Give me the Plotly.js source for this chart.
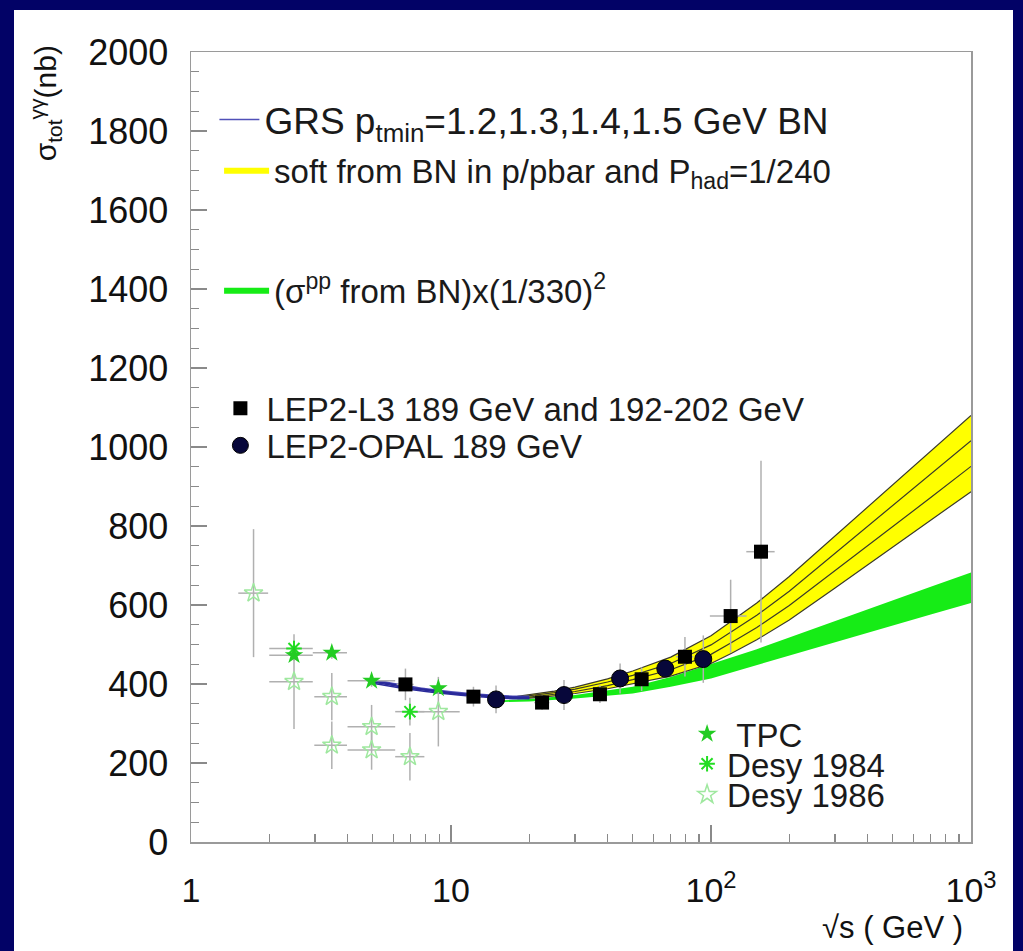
<!DOCTYPE html>
<html><head><meta charset="utf-8">
<script src="https://cdn.plot.ly/plotly-3.0.1.min.js"></script>
<style>
html,body{margin:0;padding:0;background:#020266;width:1023px;height:951px;overflow:hidden;}
#chart{position:absolute;left:14px;top:10px;width:999px;height:941px;background:#fff;}
</style></head><body><div id="chart"></div>
<script>
// ---- theory curves ----
const bandS   = [18, 20, 25, 30, 40, 50, 70, 100, 120, 150, 200, 300, 400, 500, 700, 1000];
const softTop = [369, 373, 382, 392, 413, 433, 468, 522, 560, 605, 672, 775, 847, 903, 988, 1080];
const softL2  = [367, 370, 378, 387, 405, 422, 452, 499, 533, 574, 635, 731, 798, 851, 930, 1016];
const softL3  = [365, 367, 374, 381, 396, 411, 436, 475, 505, 543, 599, 687, 750, 798, 872, 951];
const softBot = [363, 364, 370, 376, 388, 400, 420, 452, 478, 512, 562, 643, 701, 746, 814, 887];

const ppS   = [15, 20, 30, 50, 70, 100, 150, 200, 300, 500, 700, 1000];
const ppTop = [358, 362, 372, 393, 418, 450, 488, 518, 560, 612, 646, 682];
const ppBot = [354, 356, 363, 376, 393, 414, 446, 470, 505, 548, 576, 605];

const grsS  = [5, 6, 7, 8, 10, 12, 15, 18, 20];
const grs12 = [411, 401, 394, 388, 380, 375, 371, 369, 369];
const grs13 = [408, 399, 391, 386, 378, 373, 369, 367, 367];
const grs14 = [405, 396, 389, 384, 376, 371, 367, 365, 365];
const grs15 = [402, 393, 386, 381, 374, 369, 365, 363, 363];

// ---- data points ----
const l3S      = [6.68, 12.2, 22.4, 37.4, 54.1, 79.4, 119, 155.7];
const l3Sig    = [399, 368, 353, 374, 412, 469, 572, 735];
const l3Err    = [40, 25, 18, 22, 30, 50, 92, 230];
const l3XPlus  = [0.5, 0.8, 1.5, 2, 3, 6, 18, 20];
const l3XMinus = [0.5, 0.8, 1.5, 2, 3, 6, 20, 19];

const opalS   = [14.9, 27.2, 44.7, 66.7, 93.4];
const opalSig = [361, 372, 414, 439, 463];
const opalErr = [35, 38, 38, 22, 60];

const tpcS      = [2.49, 3.48, 4.95, 8.94];
const tpcSig    = [473, 479, 408, 389];
const tpcErr    = [15, 15, 15, 15];
const tpcXPlus  = [0.45, 0.5, 1.15, 0.4];
const tpcXMinus = [0.49, 0.54, 0.95, 0.4];

const d84S      = [2.49, 6.95];
const d84Sig    = [490, 330];
const d84Err    = [20, 35];
const d84XPlus  = [0.45, 0.95];
const d84XMinus = [0.49, 0.85];

const d86S      = [1.74, 2.49, 3.48, 3.48, 4.95, 4.95, 6.95, 8.94];
const d86Sig    = [630, 406, 368, 245, 292, 233, 216, 330];
const d86Err    = [162, 120, 60, 60, 55, 50, 60, 88];
const d86XPlus  = [0.24, 0.45, 0.5, 0.5, 1.15, 1.15, 0.95, 1.86];
const d86XMinus = [0.22, 0.49, 0.5, 0.5, 0.95, 0.95, 0.85, 1.54];

const xTickVals = [1, 10, 100, 1000];
const xTickText = ['1', '10', '10<sup>2</sup>', '10<sup>3</sup>'];
const yTickVals = [0, 200, 400, 600, 800, 1000, 1200, 1400, 1600, 1800, 2000];

const FONT = 'Liberation Sans, Arial, Helvetica, sans-serif';
const errStyle = {color: '#b0b0b0', thickness: 1.5, width: 0};
function rev(a){ return a.slice().reverse(); }

const traces = [];
traces.push({x: ppS.concat(rev(ppS)), y: ppTop.concat(rev(ppBot)), mode: 'lines', fill: 'toself',
  fillcolor: '#16ec16', line: {width: 0}, hoverinfo: 'skip',
  name: '(σ<sup>pp</sup> from BN)x(1/330)<sup>2</sup>', legend: 'legend3'});
traces.push({x: bandS.concat(rev(bandS)), y: softTop.concat(rev(softBot)), mode: 'lines', fill: 'toself',
  fillcolor: '#ffff00', line: {width: 0}, hoverinfo: 'skip',
  name: 'soft from BN in p/pbar and P<sub>had</sub>=1/240', legend: 'legend2'});
[softTop, softL2, softL3, softBot].forEach(function(arr){
  traces.push({x: bandS, y: arr, mode: 'lines', line: {color: '#3a3a2a', width: 1.2},
    showlegend: false, hoverinfo: 'skip'});
});
[grs12, grs13, grs14, grs15].forEach(function(arr, i){
  traces.push({x: grsS, y: arr, mode: 'lines', line: {color: i === 0 ? '#5050b8' : '#2a2a9a', width: 1.6, shape: 'spline', smoothing: 0.6},
    showlegend: i === 0, legend: 'legend', name: 'GRS p<sub>tmin</sub>=1.2,1.3,1.4,1.5 GeV BN'});
});
traces.push({x: d86S, y: d86Sig, mode: 'markers', name: 'Desy 1986', legend: 'legend8',
  marker: {symbol: 'star-open', size: 14, color: '#9fe89f', line: {width: 1.5, color: '#9fe89f'}},
  error_y: Object.assign({type: 'data', array: d86Err}, errStyle),
  error_x: Object.assign({type: 'data', array: d86XPlus, arrayminus: d86XMinus}, errStyle)});
traces.push({x: d84S, y: d84Sig, mode: 'markers', name: 'Desy 1984', legend: 'legend7',
  marker: {symbol: 'asterisk-open', size: 13, color: '#22dd22', line: {width: 2, color: '#22dd22'}},
  error_y: Object.assign({type: 'data', array: d84Err}, errStyle),
  error_x: Object.assign({type: 'data', array: d84XPlus, arrayminus: d84XMinus}, errStyle)});
traces.push({x: tpcS, y: tpcSig, mode: 'markers', name: '\u00a0TPC', legend: 'legend6',
  marker: {symbol: 'star', size: 14, color: '#22cc22'},
  error_y: Object.assign({type: 'data', array: tpcErr}, errStyle),
  error_x: Object.assign({type: 'data', array: tpcXPlus, arrayminus: tpcXMinus}, errStyle)});
traces.push({x: l3S, y: l3Sig, mode: 'markers', name: 'LEP2-L3 189 GeV and 192-202 GeV', legend: 'legend4',
  marker: {symbol: 'square', size: 14, color: '#000000'},
  error_y: Object.assign({type: 'data', array: l3Err}, errStyle),
  error_x: Object.assign({type: 'data', array: l3XPlus, arrayminus: l3XMinus}, errStyle)});
traces.push({x: opalS, y: opalSig, mode: 'markers', name: 'LEP2-OPAL 189 GeV', legend: 'legend5',
  marker: {symbol: 'circle', size: 17, color: '#07073a', line: {width: 1, color: '#000'}},
  error_y: Object.assign({type: 'data', array: opalErr}, errStyle)});

function leg(x, y, size, iw){
  return {x: x, y: y, xanchor: 'left', yanchor: 'middle', bgcolor: 'rgba(0,0,0,0)', borderwidth: 0,
    font: {family: FONT, size: size || 33, color: '#1a1a1a'}, itemwidth: iw || 40, itemclick: false, itemdoubleclick: false};
}

const layout = {
  width: 999, height: 941,
  margin: {l: 177, r: 42, t: 42, b: 109},
  paper_bgcolor: '#ffffff', plot_bgcolor: '#ffffff',
  showlegend: true,
  xaxis: {type: 'log', range: [0, 3], tickvals: xTickVals, ticktext: xTickText,
    ticks: 'inside', ticklen: 17, tickwidth: 1.5, tickcolor: '#8a8a8a',
    showline: true, linecolor: '#9a9a9a', linewidth: 1.5, mirror: true,
    showgrid: false, zeroline: false, ticklabelstandoff: 18,
    tickfont: {family: FONT, size: 34, color: '#111'},
    minor: {tickvals: [2,3,4,5,6,7,8,9,20,30,40,50,60,70,80,90,200,300,400,500,600,700,800,900],
      ticks: 'inside', ticklen: 8, tickwidth: 1.2, tickcolor: '#8a8a8a', showgrid: false}},
  yaxis: {range: [0, 2000], tickvals: yTickVals,
    ticks: 'inside', ticklen: 16, tickwidth: 1.5, tickcolor: '#8a8a8a',
    showline: true, linecolor: '#9a9a9a', linewidth: 1.5, mirror: true,
    showgrid: false, zeroline: false, ticklabelstandoff: 14,
    tickfont: {family: FONT, size: 36, color: '#111'},
    minor: {dtick: 50, ticks: 'inside', ticklen: 8, tickwidth: 1.2, tickcolor: '#8a8a8a', showgrid: false}},
  legend:  leg(0.030, 0.914, 37, 40),
  legend2: leg(0.036, 0.851, 33, 45),
  legend3: leg(0.036, 0.699, 33, 45),
  legend4: leg(0.030, 0.549, 33, 42),
  legend5: leg(0.030, 0.502, 33, 42),
  legend6: leg(0.636, 0.137, 33, 30),
  legend7: leg(0.636, 0.099, 33, 30),
  legend8: leg(0.636, 0.060, 33, 30),
  annotations: [
    {xref: 'paper', yref: 'paper', x: -0.186, y: 0.935, textangle: -90, showarrow: false,
     xanchor: 'center', yanchor: 'middle', text: 'σ<sub>tot</sub><sup>γγ</sup>(nb)',
     font: {family: FONT, size: 30, color: '#111'}},
    {xref: 'paper', yref: 'paper', x: 0.992, y: -0.108, showarrow: false,
     xanchor: 'right', yanchor: 'middle', text: '√s ( GeV )',
     font: {family: FONT, size: 31, color: '#111'}}
  ]
};

Plotly.newPlot('chart', traces, layout, {displayModeBar: false, staticPlot: true});
</script></body></html>
